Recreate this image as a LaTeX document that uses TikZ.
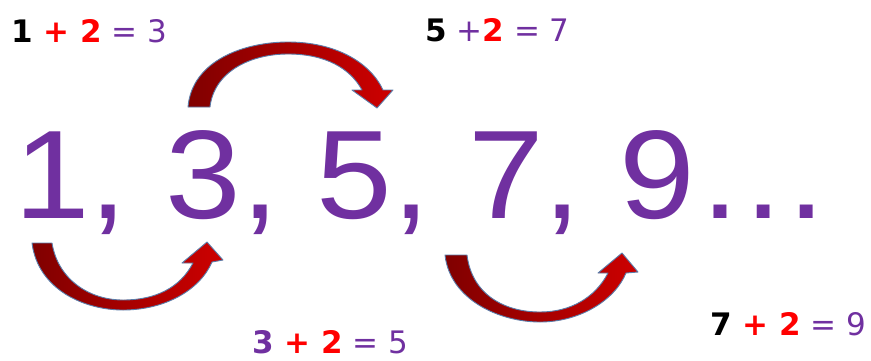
\documentclass[tikz,border=0pt]{standalone}
\usepackage{fontspec}
\setmainfont{Liberation Sans}
\newfontfamily\bignums[FakeStretch=1.08]{Liberation Sans}
\newfontfamily\labfont{DejaVu Sans}
\definecolor{vio}{HTML}{7030A0}
\definecolor{darkarrow}{RGB}{128,0,0}
\definecolor{brightarrow}{RGB}{205,0,0}
\definecolor{edgeblue}{RGB}{90,125,170}
\tikzset{
  blockarrow/.style={left color=darkarrow, right color=brightarrow, draw=edgeblue, line width=0.9pt, line join=round},
  seqtext/.style={anchor=base west, inner sep=0pt, text=vio, font=\bignums\fontsize{126}{130}\selectfont},
  sumlabel/.style={anchor=base west, inner sep=0pt, font=\labfont\fontsize{31}{36}\selectfont}
}
\begin{document}
\begin{tikzpicture}[x=1pt,y=-1pt]
\useasboundingbox (0,0) rectangle (871,360);
% sequence
\node[seqtext] (seq) at (14,218) {1, 3, 5, 7, 9…};
% labels
\node[sumlabel] (l1) at (11,42) {\textbf{1 {\color{red}+ 2}} {\color{vio}= 3}};
\node[sumlabel] (l2) at (425,41) {\textbf{5} {\color{vio}+}\textbf{\color{red}2} {\color{vio}= 7}};
\node[sumlabel] (l3) at (252,353) {\textbf{\color{vio}3 {\color{red}+ 2}} {\color{vio}= 5}};
\node[sumlabel] (l4) at (710,335) {\textbf{7 {\color{red}+ 2}} {\color{vio}= 9}};
% top arrow (3 -> 5)
\path[blockarrow] (188,107) .. controls (192,60) and (245,42) .. (288,42)
  .. controls (335,42) and (370,62) .. (383,90)
  -- (393,90) -- (377,108) -- (352,90) -- (362,90)
  .. controls (350,68) and (325,54) .. (288,54)
  .. controls (250,54) and (214,72) .. (210,107) -- cycle;
% bottom-left arrow (1 -> 3)
\path[blockarrow] (32,243) .. controls (38,290) and (85,310) .. (123,310)
  .. controls (165,310) and (200,290) .. (212,262)
  -- (223,260) -- (207,242) -- (182,263) -- (193,263)
  .. controls (180,288) and (155,300) .. (123,300)
  .. controls (90,300) and (58,280) .. (52,243) -- cycle;
% bottom-right arrow (7 -> 9)
\path[blockarrow] (445,255) .. controls (450,300) and (500,322) .. (540,322)
  .. controls (580,322) and (615,300) .. (626,273)
  -- (638,272) -- (622,253) -- (598,273) -- (608,273)
  .. controls (595,298) and (570,312) .. (540,312)
  .. controls (505,312) and (472,295) .. (467,255) -- cycle;
\end{tikzpicture}
\end{document}
